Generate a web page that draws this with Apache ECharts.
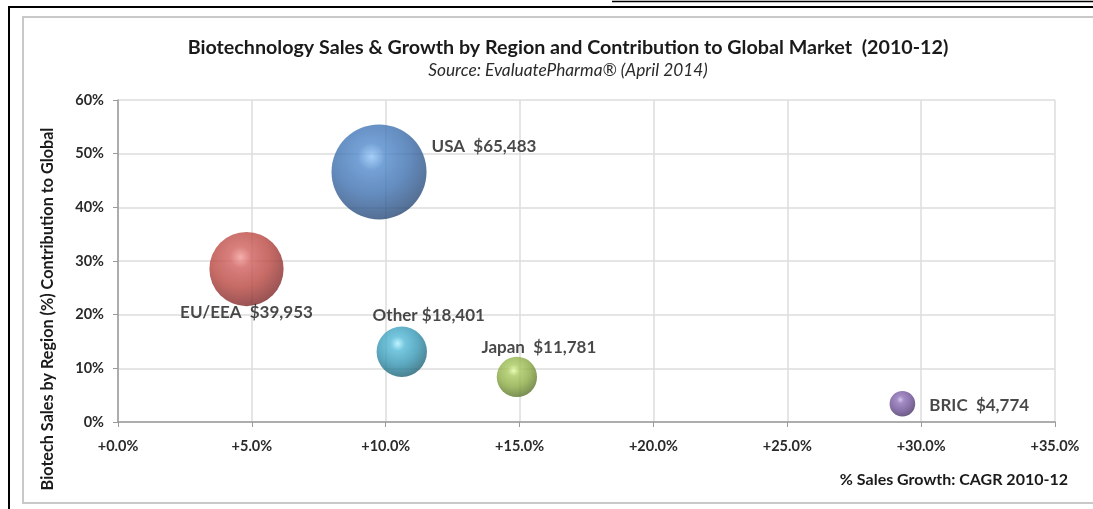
<!DOCTYPE html>
<html>
<head>
<meta charset="utf-8">
<script src="https://cdn.jsdelivr.net/npm/echarts@6/dist/echarts.min.js"></script>
<style>
  html, body { margin: 0; padding: 0; background: #fff; }
  #chart { width: 1093px; height: 509px; }
</style>
</head>
<body>
<div id="chart"></div>
<script>
  // regions, CAGR 2010-12 (%), contribution to global (%), sales ($m)
  var regions = ['USA', 'EU/EEA', 'Other', 'Japan', 'BRIC'];
  var growth = [9.75, 4.8, 10.6, 14.9, 29.3];
  var share = [46.6, 28.5, 13.1, 8.4, 3.4];
  var sales = [65483, 39953, 18401, 11781, 4774];
  var xTicks = ['+0.0%', '+5.0%', '+10.0%', '+15.0%', '+20.0%', '+25.0%', '+30.0%', '+35.0%'];
  var yTicks = ['0%', '10%', '20%', '30%', '40%', '50%', '60%'];

  // sphere colours: highlight, light, base, shade, rim
  var ballColors = [
    ['#8fc3f7', '#5189cb', '#3d6fae', '#2a4c7a', '#121e30'],
    ['#f29a97', '#cf5f5c', '#b8463f', '#82292a', '#2e0c0c'],
    ['#aef0ff', '#52b8d6', '#3597b5', '#1f6478', '#0c2830'],
    ['#e4fba0', '#a9c85f', '#8aab43', '#5c752a', '#24300e'],
    ['#c9b6ea', '#8c6fb6', '#6f5298', '#4a3468', '#1c1228']
  ];
  // label placement per bubble
  var labelPos = [
    { position: 'right', offset: [0, -25], sep: '  ' },
    { position: 'bottom', offset: [0, -7], sep: '  ' },
    { position: 'top', offset: [27, 2], sep: ' ' },
    { position: 'top', offset: [22, 4], sep: '  ' },
    { position: 'right', offset: [9, 2], sep: '  ' }
  ];

  var font = 'Lato, "Open Sans", sans-serif';
  var myChart = echarts.init(document.getElementById('chart'));

  var seriesData = regions.map(function (name, i) {
    var c = ballColors[i];
    return {
      name: name,
      value: [growth[i], share[i], sales[i]],
      itemStyle: {
        color: new echarts.graphic.RadialGradient(0.42, 0.34, 0.8, [
          { offset: 0, color: c[0] },
          { offset: 0.18, color: c[1] },
          { offset: 0.5, color: c[2] },
          { offset: 0.82, color: c[3] },
          { offset: 1, color: c[4] }
        ])
      },
      label: {
        show: true,
        position: labelPos[i].position,
        offset: labelPos[i].offset,
        distance: 5,
        formatter: name + labelPos[i].sep + '$' + sales[i].toLocaleString('en-US')
      }
    };
  });

  myChart.setOption({
    backgroundColor: '#fff',
    animation: false,
    title: {
      text: 'Biotechnology Sales & Growth by Region and Contribution to Global Market  (2010-12)',
      subtext: 'Source: EvaluatePharma® (April 2014)',
      left: 563,
      top: 33,
      textAlign: 'center',
      itemGap: 4,
      textStyle: { fontFamily: font, fontWeight: 'bold', fontSize: 19.7, color: '#1a1a1a' },
      subtextStyle: { fontFamily: font, fontStyle: 'italic', fontSize: 17.3, color: '#2a2a2a' }
    },
    grid: { left: 118, right: 38, top: 100, bottom: 87 },
    xAxis: {
      type: 'value',
      min: 0,
      max: 35,
      interval: 5,
      name: '% Sales Growth: CAGR 2010-12',
      nameLocation: 'end',
      nameGap: 13,
      nameTextStyle: {
        fontFamily: font, fontWeight: 'bold', fontSize: 16, color: '#1a1a1a',
        align: 'right', verticalAlign: 'top', padding: [50, 0, 0, 0]
      },
      axisLine: { show: true, lineStyle: { color: '#9a9a9a', width: 1.5 } },
      axisTick: { show: true, length: 5, lineStyle: { color: '#9a9a9a' } },
      splitLine: { show: true, lineStyle: { color: '#dcdcdc', width: 1.5 } },
      axisLabel: {
        margin: 17,
        fontFamily: font, fontWeight: 'bold', fontSize: 14.5, color: '#2a2a2a',
        formatter: function (v) { return xTicks[Math.round(v / 5)]; }
      }
    },
    yAxis: {
      type: 'value',
      min: 0,
      max: 60,
      interval: 10,
      name: 'Biotech Sales by Region (%) Contribution to Global',
      nameLocation: 'middle',
      nameGap: 62,
      nameTextStyle: {
        fontFamily: font, fontWeight: 'bold', fontSize: 16.2, color: '#1a1a1a',
        padding: [0, 96, 0, 0]
      },
      axisLine: { show: true, lineStyle: { color: '#9a9a9a', width: 1.5 } },
      axisTick: { show: true, length: 5, lineStyle: { color: '#9a9a9a' } },
      splitLine: { show: true, lineStyle: { color: '#dcdcdc', width: 1.5 } },
      axisLabel: {
        margin: 14,
        fontFamily: font, fontWeight: 'bold', fontSize: 14.5, color: '#2a2a2a',
        formatter: function (v) { return yTicks[Math.round(v / 10)]; }
      }
    },
    graphic: [
      { type: 'line', shape: { x1: 612, y1: 1.5, x2: 1093, y2: 1.5 }, style: { stroke: '#000', lineWidth: 1.5 } },
      { type: 'rect', shape: { x: 9, y: 7, width: 1100, height: 520 }, style: { fill: null, stroke: '#000', lineWidth: 2 } },
      { type: 'rect', shape: { x: 23, y: 17, width: 1100, height: 486 }, style: { fill: null, stroke: '#c8c8c8', lineWidth: 2 } }
    ],
    series: [{
      type: 'scatter',
      data: seriesData,
      symbolSize: function (val) { return 95 * Math.sqrt(val[2] / 65483); },
      label: {
        fontFamily: font, fontWeight: 'bold', fontSize: 17, color: '#1a1a1a'
      }
    }]
  });
</script>
</body>
</html>
